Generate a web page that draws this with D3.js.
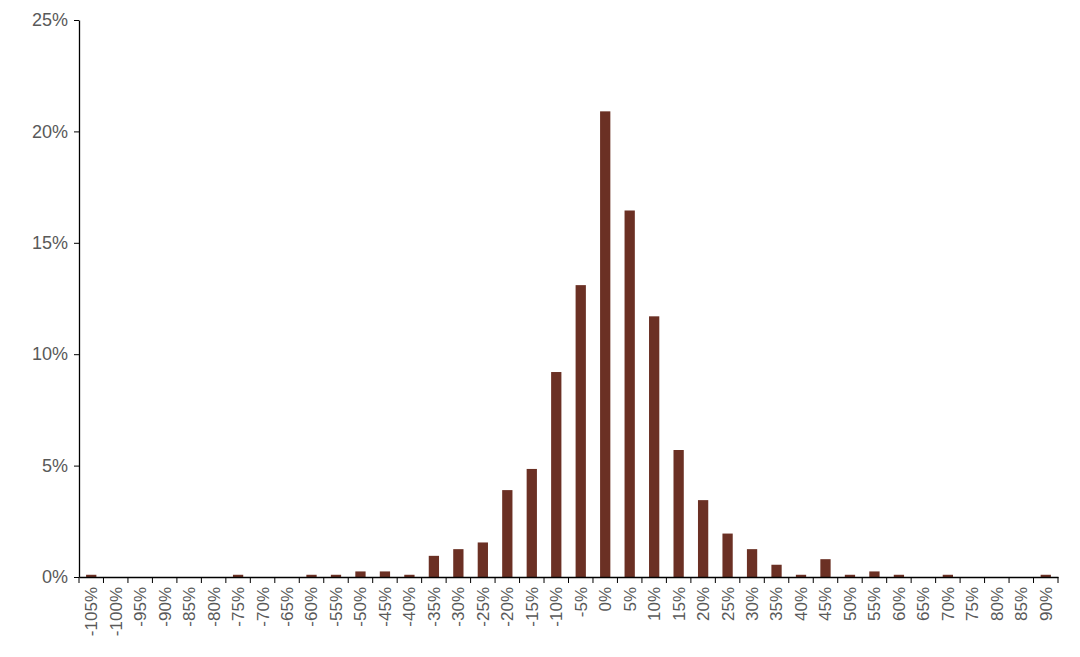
<!DOCTYPE html><html><head><meta charset="utf-8"><script src="https://cdn.jsdelivr.net/npm/d3@7"></script>
<style>body{margin:0;background:#fff}text{font-family:"Liberation Sans",Arial,sans-serif;fill:#595959}</style></head><body><svg id="c" width="1080" height="657"></svg><script>
const categories=[-105,-100,-95,-90,-85,-80,-75,-70,-65,-60,-55,-50,-45,-40,-35,-30,-25,-20,-15,-10,-5,0,5,10,15,20,25,30,35,40,45,50,55,60,65,70,75,80,85,90].map(d=>d+"%");
const values=[0.1,0,0,0,0,0,0.1,0,0,0.1,0.1,0.25,0.25,0.1,0.95,1.25,1.55,3.9,4.85,9.2,13.1,20.9,16.45,11.7,5.7,3.45,1.95,1.25,0.55,0.1,0.8,0.1,0.25,0.1,0,0.1,0,0,0,0.1];
const yTicks=[0,5,10,15,20,25];
const svg=d3.select("#c");
const x=d3.scaleBand().domain(categories).range([79,1058]).paddingInner(0.58).paddingOuter(0.29);
const y=d3.scaleLinear().domain([0,25]).range([577,20]);
svg.selectAll("rect").data(values).join("rect").attr("x",(d,i)=>x(categories[i])).attr("width",x.bandwidth())
 .attr("y",d=>y(d)).attr("height",d=>y(0)-y(d)).attr("fill","#6B3024");
const ya=svg.append("g").attr("transform","translate(79,0)").call(d3.axisLeft(y).tickValues(yTicks).tickFormat(d=>d+"%").tickSize(5).tickSizeOuter(0));
ya.selectAll("text").attr("font-size",18).attr("dx",-3);
const step=x.step();
const xa=svg.append("g").attr("transform","translate(0,577)").call(d3.axisBottom(x).tickSize(0).tickSizeOuter(0));
xa.selectAll("text").attr("font-size",17).attr("transform","rotate(-90)").attr("text-anchor","end").attr("x",-10).attr("y",0).attr("dy","0.35em");
svg.append("g").selectAll("line").data(d3.range(categories.length+1)).join("line")
 .attr("x1",i=>79+i*step).attr("x2",i=>79+i*step).attr("y1",577).attr("y2",583).attr("stroke","#000");
svg.selectAll(".domain").attr("stroke","#000").attr("stroke-width",1.3);
ya.selectAll(".tick line").attr("stroke","#000");
</script></body></html>
